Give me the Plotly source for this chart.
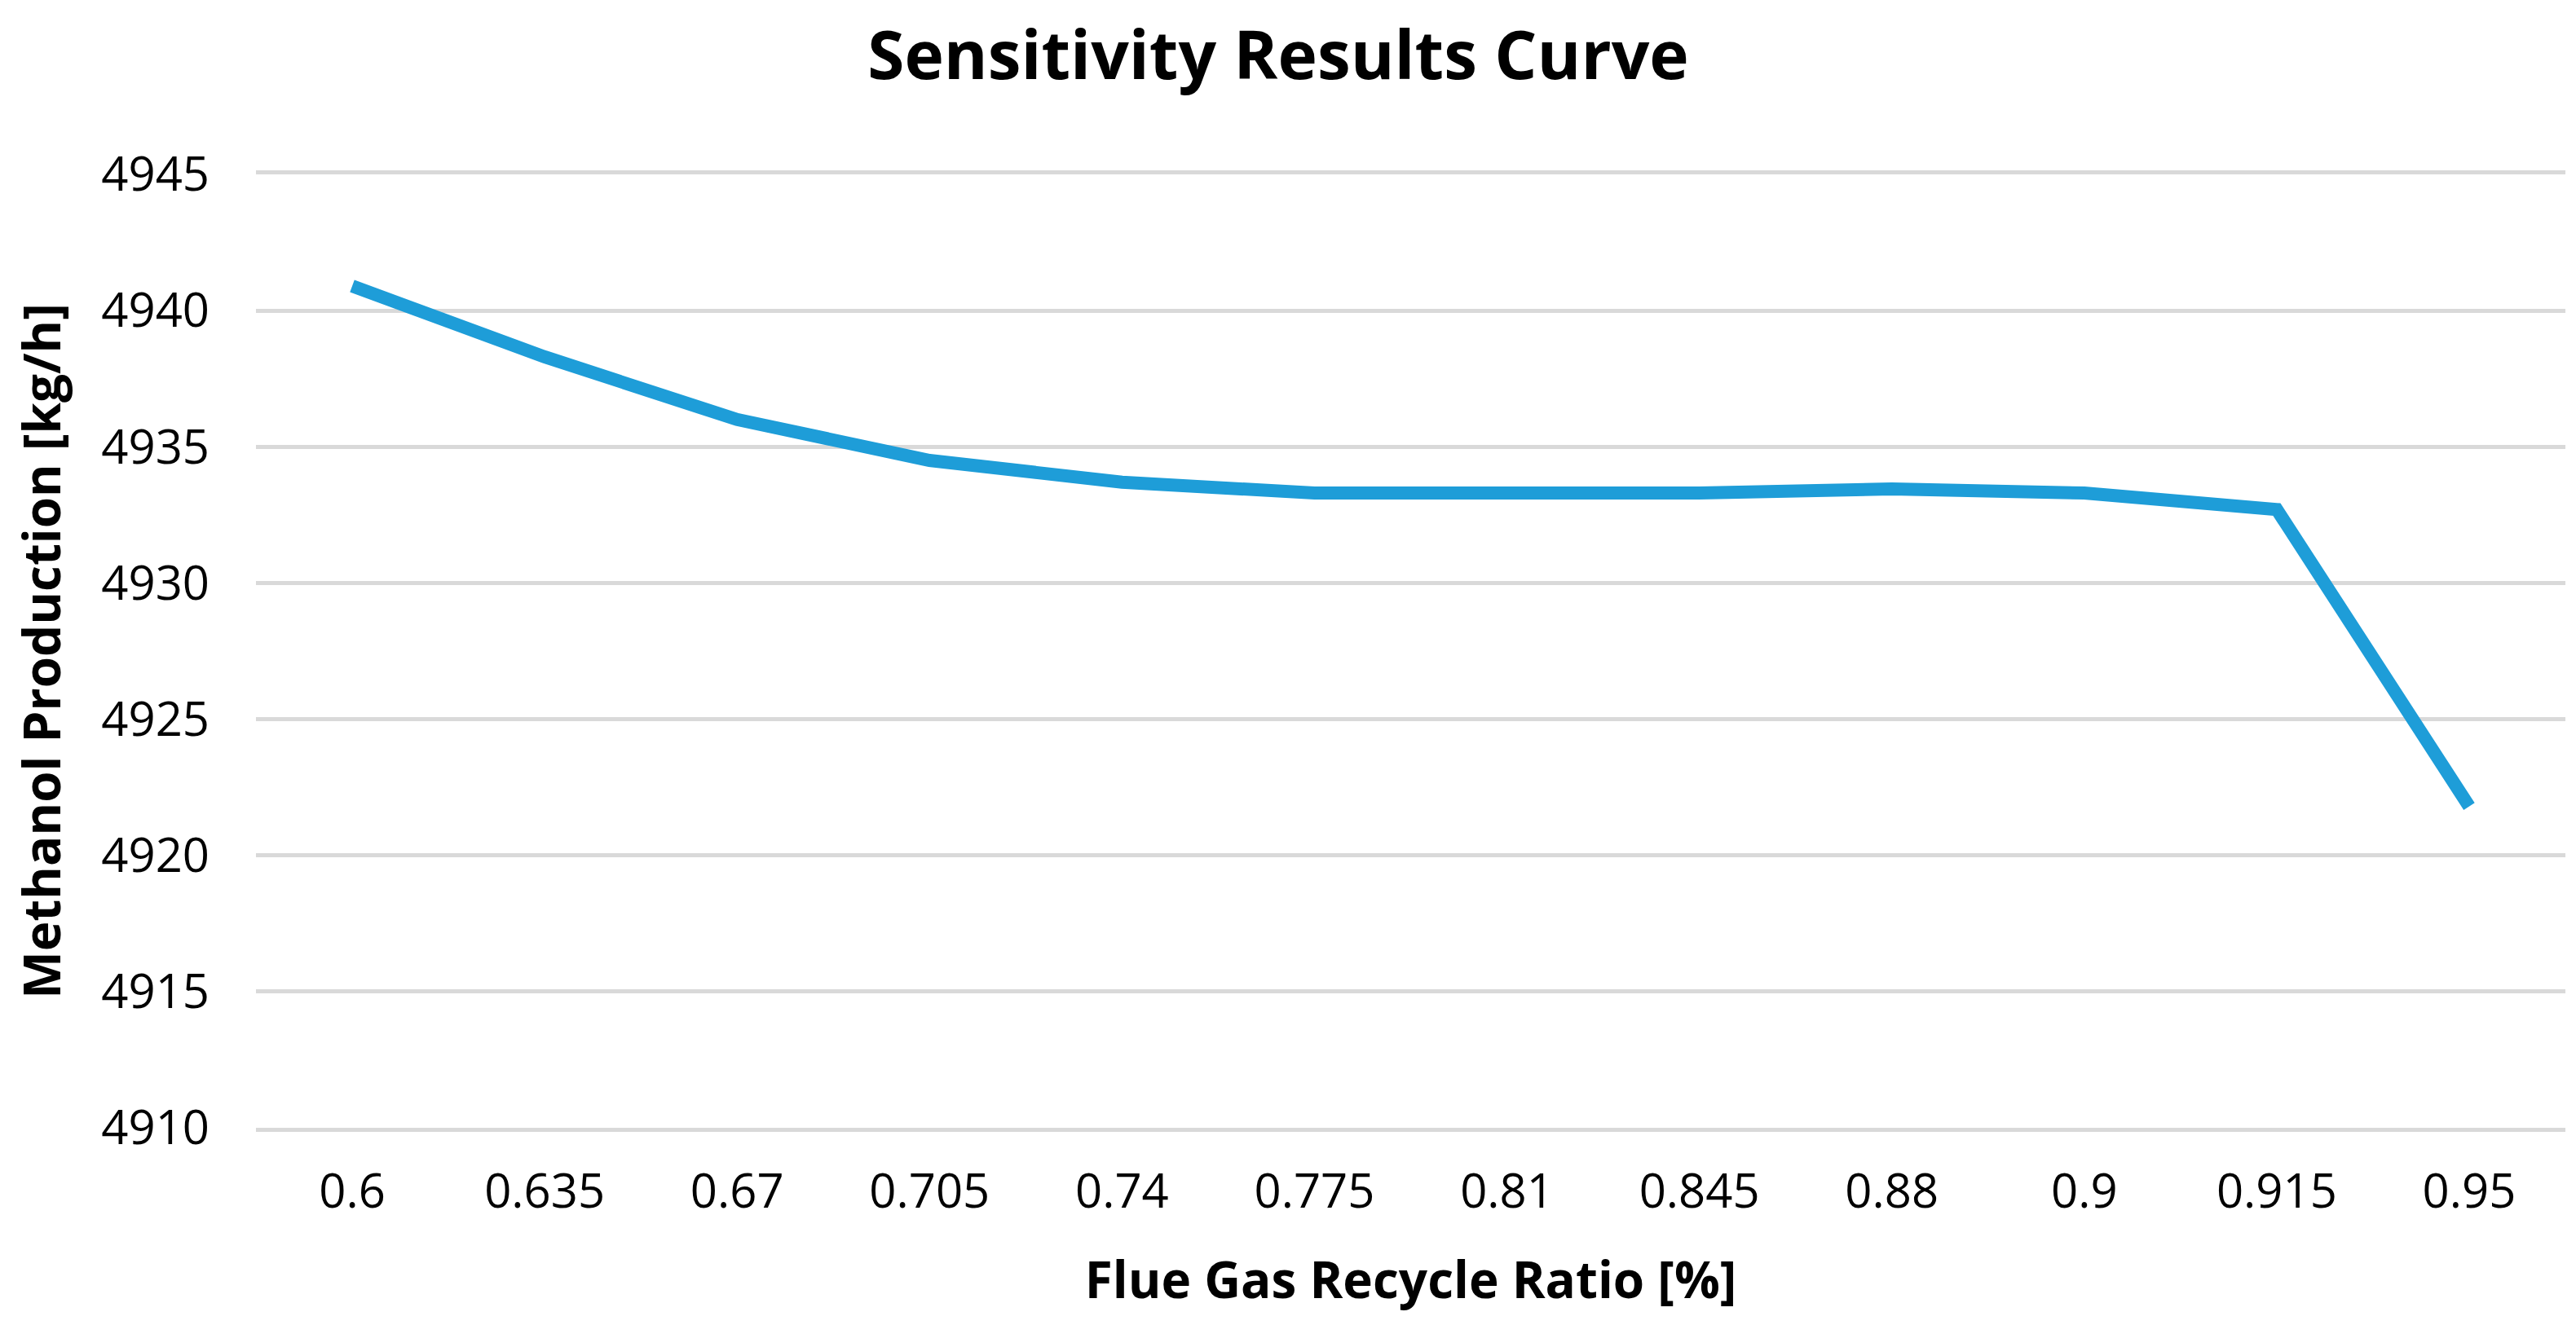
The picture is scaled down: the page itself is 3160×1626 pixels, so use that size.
import plotly.graph_objects as go

ratio_labels = ["0.6", "0.635", "0.67", "0.705", "0.74", "0.775", "0.81", "0.845", "0.88", "0.9", "0.915", "0.95"]
methanol_kgh = [4940.9, 4938.3, 4936.0, 4934.5, 4933.7, 4933.3, 4933.3, 4933.3, 4933.45, 4933.3, 4932.7, 4921.8]
y_ticks = [4910, 4915, 4920, 4925, 4930, 4935, 4940, 4945]

fig = go.Figure()
fig.add_trace(go.Scatter(
    x=ratio_labels, y=methanol_kgh, mode="lines",
    line=dict(color="#1e9dd8", width=16, shape="linear"),
    showlegend=False,
))

fig.update_layout(
    width=3160, height=1626,
    paper_bgcolor="white", plot_bgcolor="white",
    margin=dict(l=306, r=21, t=206, b=250),
    font=dict(family="Open Sans", color="black"),
    title=dict(text="<b>Sensitivity Results Curve</b>", x=1560 / 3160, xanchor="center",
               y=1 - 60 / 1626, yanchor="middle", xref="container", yref="container",
               font=dict(size=82, color="black", family="Open Sans")),
)
fig.update_xaxes(
    type="category", range=[-0.5, 11.5], showgrid=False, zeroline=False,
    showline=True, mirror=True, linecolor="#d9d9d9", linewidth=5,
    tickfont=dict(size=58, color="black"), ticks="", ticklabelstandoff=23,
    title=dict(text="<b>Flue Gas Recycle Ratio [%]</b>", font=dict(size=62, color="black"), standoff=54),
)
fig.update_yaxes(
    range=[4910, 4945], tickvals=y_ticks, showgrid=True, gridcolor="#d9d9d9", gridwidth=5,
    zeroline=False, showline=False, ticks="", ticklabelstandoff=56,
    tickfont=dict(size=58, color="black"),
    title=dict(text="<b>Methanol Production [kg/h]</b>", font=dict(size=62, color="black"), standoff=30),
)
fig.write_html("out.html")
